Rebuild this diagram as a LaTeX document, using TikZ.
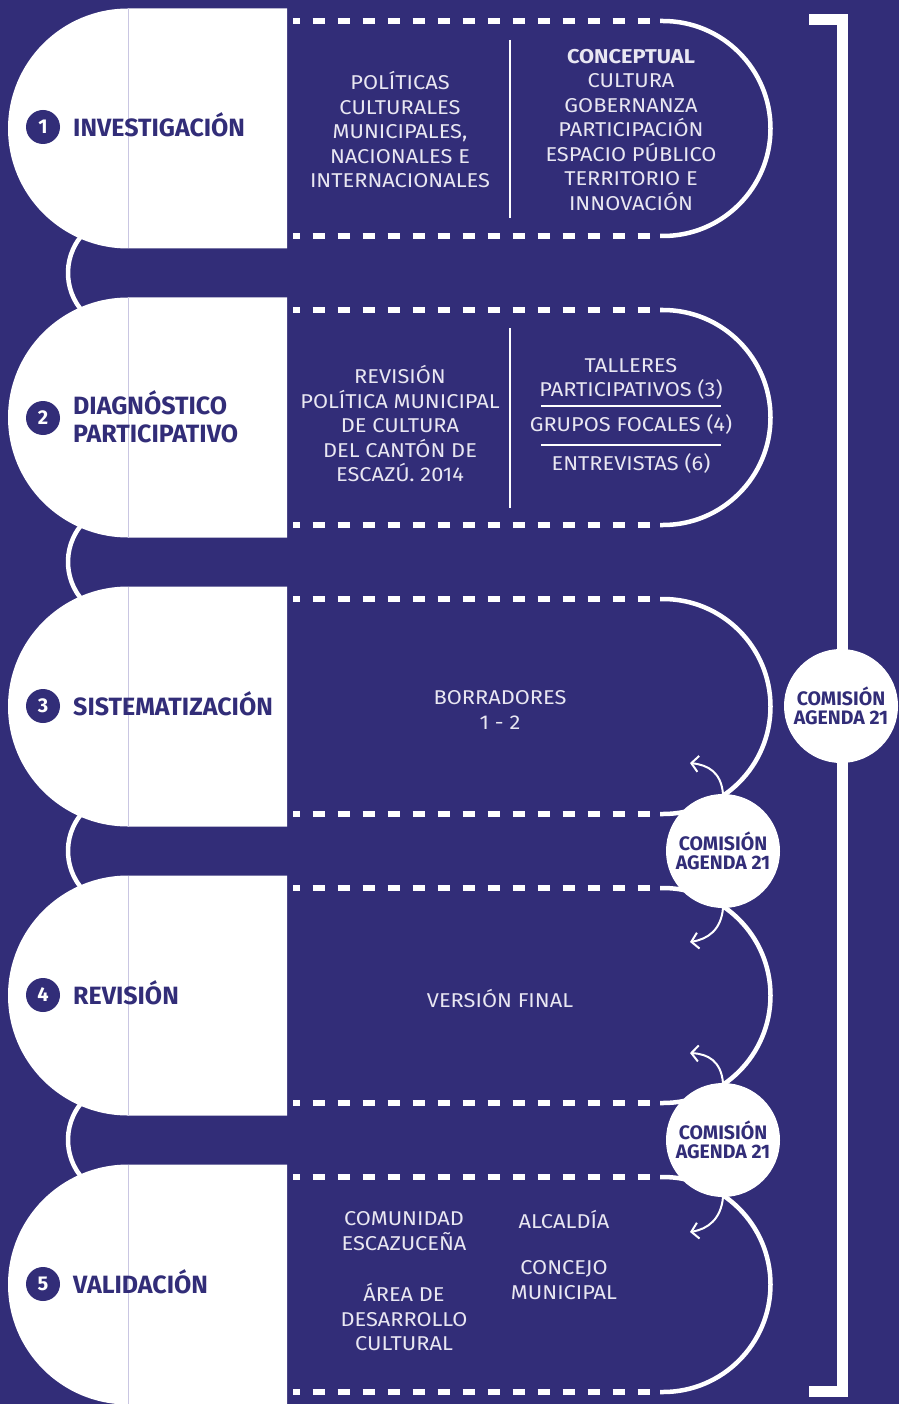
\documentclass[tikz,border=0pt]{standalone}
\usepackage{fontspec}
\setmainfont{Fira Sans}
\newfontfamily\bodyfont{Fira Sans}[FakeStretch=1.09]
\usetikzlibrary{arrows.meta}
\definecolor{bg}{HTML}{322D78}
\definecolor{txt}{HTML}{E9E7F2}
\definecolor{seam}{HTML}{C9C6E2}
\tikzset{
  dashline/.style={white, line width=5.5pt, dash pattern=on 12.5pt off 12.5pt, dash phase=5.5pt},
  arcline/.style={white, line width=4.5pt},
  body/.style={text=txt, font=\bodyfont\fontsize{20}{24.5}\selectfont, align=center, inner sep=0pt},
  steplabel/.style={text=bg, font=\bfseries\fontsize{25}{27.5}\selectfont, align=left, anchor=west, inner sep=0pt},
  badge/.style={circle, fill=bg, minimum size=34pt, inner sep=0pt, text=white, font=\bfseries\fontsize{20}{20}\selectfont},
  comision/.style={circle, fill=white, minimum size=114pt, inner sep=0pt, text=bg, align=center, font=\bfseries\fontsize{19.5}{19.5}\selectfont},
  sepline/.style={white, line width=2pt},
  curvarrow/.style={white, line width=2pt, -{Straight Barb[length=7pt,width=16pt]}},
  bracketline/.style={white, line width=11pt, line join=miter},
}
\begin{document}
\begin{tikzpicture}[x=1pt,y=-1pt]
\fill[bg] (0,0) rectangle (899,1404);
\useasboundingbox (0,0) rectangle (899,1404);
% bracket
\coordinate (bt) at (809,20);
\coordinate (bb) at (809,1391);
\draw[bracketline] (bt) -- (842,20) -- (842,1391) -- (bb);
% left connectors between rows
\foreach \Y in {273,562,851,1140}{
  \draw[arcline] (97,\Y+50.2) arc[start angle=120,end angle=240,radius=58];
}
% rows
\foreach \Y in {128.5,417.5,706.5,995.5,1284.5}{
  \fill[white] (128,\Y-120) arc[start angle=-90,end angle=-270,radius=120] -- (287,\Y+120) -- (287,\Y-120) -- cycle;
  \draw[seam, line width=0.8pt] (128,\Y-120) -- (128,\Y+120);
  \draw[dashline] (293,\Y-107.5) -- (660,\Y-107.5);
  \draw[dashline] (293,\Y+107.5) -- (660,\Y+107.5);
  \draw[arcline] (660,\Y-107.5) -- (663,\Y-107.5) arc[start angle=-90,end angle=90,radius=107.5] -- (660,\Y+107.5);
}
% badges and step labels
\node[badge] (b1) at (43,127) {1};
\node[steplabel] (s1) at (73,125) {INVESTIGACIÓN};
\node[badge] (b2) at (43,418) {2};
\node[steplabel] (s2) at (73,417) {DIAGNÓSTICO\\PARTICIPATIVO};
\node[badge] (b3) at (43,706) {3};
\node[steplabel] (s3) at (73,704) {SISTEMATIZACIÓN};
\node[badge] (b4) at (43,995) {4};
\node[steplabel] (s4) at (73,993) {REVISIÓN};
\node[badge] (b5) at (43,1284) {5};
\node[steplabel] (s5) at (73,1282) {VALIDACIÓN};
% separators
\draw[sepline] (510,40) -- (510,218);
\draw[sepline] (510,328) -- (510,508);
\draw[sepline] (541,406) -- (721,406);
\draw[sepline] (541,445) -- (721,445);
% row texts
\node[body] (t1a) at (400,130) {POLÍTICAS\\CULTURALES\\MUNICIPALES,\\NACIONALES E\\INTERNACIONALES};
\node[body] (t1b) at (631,130) {\textbf{CONCEPTUAL}\\CULTURA\\GOBERNANZA\\PARTICIPACIÓN\\ESPACIO PÚBLICO\\TERRITORIO E\\INNOVACIÓN};
\node[body] (t2a) at (400,424) {REVISIÓN\\POLÍTICA MUNICIPAL\\DE CULTURA\\DEL CANTÓN DE\\ESCAZÚ. 2014};
\node[body] (t2b) at (631,379) {TALLERES\\PARTICIPATIVOS (3)};
\node[body] (t2c) at (631,424) {GRUPOS FOCALES (4)};
\node[body] (t2d) at (631,463) {ENTREVISTAS (6)};
\node[body] (t3) at (500,710) {BORRADORES\\1 - 2};
\node[body] (t4) at (500,998) {VERSIÓN FINAL};
\node[body] (t5a) at (404,1231) {COMUNIDAD\\ESCAZUCEÑA};
\node[body] (t5b) at (404,1317) {ÁREA DE\\DESARROLLO\\CULTURAL};
\node[body] (t5c) at (564,1219) {ALCALDÍA};
\node[body] (t5d) at (564,1280) {CONCEJO\\MUNICIPAL};
% comision circles
\node[comision] (cR) at (841,706) {COMISIÓN\\AGENDA 21};
\node[comision] (c1) at (723,851) {COMISIÓN\\AGENDA 21};
\node[comision] (c2) at (723,1140) {COMISIÓN\\AGENDA 21};
% curved arrows
\coordinate (a1) at (690,763);
\coordinate (a2) at (690,942);
\coordinate (a3) at (690,1053);
\coordinate (a4) at (690,1232);
\draw[curvarrow] (c1.north) .. controls (721,772) and (708,765) .. (a1);
\draw[curvarrow] (c1.south) .. controls (721,930) and (708,939) .. (a2);
\draw[curvarrow] (c2.north) .. controls (721,1061) and (708,1054) .. (a3);
\draw[curvarrow] (c2.south) .. controls (721,1219) and (708,1229) .. (a4);
\end{tikzpicture}
\end{document}
